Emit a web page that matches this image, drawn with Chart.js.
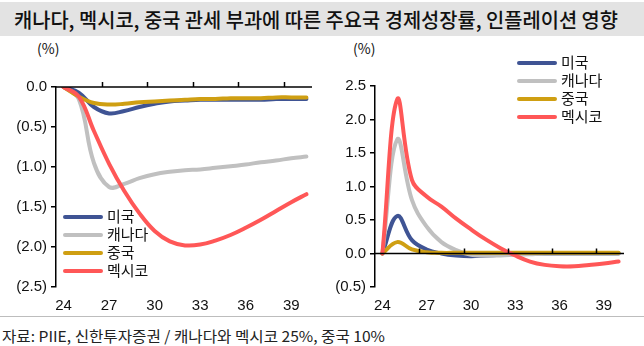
<!DOCTYPE html>
<html><head><meta charset="utf-8">
<script src="https://cdn.jsdelivr.net/npm/chart.js@4.4.0/dist/chart.umd.min.js"></script>
<style>
html,body{margin:0;padding:0;background:#fff;}
body{width:644px;height:346px;position:relative;overflow:hidden;font-family:"Noto Sans CJK KR","Noto Sans",sans-serif;}
#title{position:absolute;left:0;top:2px;width:644px;height:34px;background:#e3e3e3;}
#title span{position:absolute;left:14px;top:3px;font-size:20px;font-weight:500;color:#111;white-space:nowrap;transform-origin:0 50%;display:inline-block;}
.unit{position:absolute;top:38px;font-size:14px;color:#111;}
.cw{position:absolute;}
#sep{position:absolute;left:0;top:316px;width:644px;height:1px;background:#bdbdbd;}
#src{position:absolute;left:2px;top:325px;font-size:15px;color:#222;white-space:nowrap;transform-origin:0 50%;display:inline-block;}
.lg{position:absolute;font-size:15px;color:#111;}
.lg div{position:relative;height:18px;}
.lg i{position:absolute;left:0;top:7px;width:40px;height:4px;border-radius:2px;}
.lg b{position:absolute;left:44px;top:-3px;font-weight:400;white-space:nowrap;}
</style></head>
<body>
<div id="title"><span id="tt">캐나다, 멕시코, 중국 관세 부과에 따른 주요국 경제성장률, 인플레이션 영향</span></div>
<div class="unit" style="left:37px">(%)</div>
<div class="unit" style="left:353px">(%)</div>
<div class="cw" style="left:0;top:40px;width:320px;height:275px"><canvas id="c1"></canvas></div>
<div class="cw" style="left:320px;top:40px;width:324px;height:275px"><canvas id="c2"></canvas></div>
<div class="lg" id="lg1" style="left:63px;top:208px"></div>
<div class="lg" id="lg2" style="left:517px;top:54px"></div>
<div id="sep"></div>
<div id="src">자료: PIIE, 신한투자증권 / 캐나다와 멕시코 25%, 중국 10%</div>
<script>
const years = ['24','25','26','27','28','29','30','31','32','33','34','35','36','37','38','39','40'];
const seriesNames = ['미국','캐나다','중국','멕시코'];
const seriesColors = ['#3f5494','#c0c0c0','#cf9f12','#ff5757'];
// GDP impact (%)
const gdpUS     = [0,-0.07,-0.25,-0.33,-0.30,-0.25,-0.21,-0.18,-0.17,-0.16,-0.16,-0.16,-0.16,-0.16,-0.15,-0.15,-0.15];
const gdpCanada = [0,-0.15,-0.95,-1.25,-1.21,-1.14,-1.09,-1.06,-1.04,-1.03,-1.01,-0.99,-0.97,-0.94,-0.92,-0.89,-0.87];
const gdpChina  = [0,-0.12,-0.20,-0.22,-0.21,-0.19,-0.18,-0.17,-0.16,-0.15,-0.15,-0.14,-0.14,-0.14,-0.13,-0.13,-0.13];
const gdpMexico = [0,-0.12,-0.55,-0.96,-1.30,-1.58,-1.80,-1.93,-1.98,-1.97,-1.92,-1.85,-1.76,-1.66,-1.55,-1.44,-1.34];
// Inflation impact (%p)
const infUS     = [0,0.56,0.20,0.06,0.00,-0.03,-0.04,-0.03,-0.02,-0.01,0,0,0,0,0,0,0];
const infCanada = [0,1.70,0.80,0.40,0.17,0.05,-0.02,-0.03,-0.03,-0.02,-0.01,0,0,0,0,0,0];
const infChina  = [0,0.17,0.06,0.02,0.01,0.01,0.01,0.01,0.01,0.01,0.01,0.01,0.01,0.01,0.01,0.01,0.01];
const infMexico = [0,2.30,1.10,0.85,0.70,0.52,0.36,0.21,0.08,-0.03,-0.12,-0.17,-0.19,-0.19,-0.17,-0.15,-0.12];
const shownYears = ['24','27','30','33','36','39'];

function fmt(v){ if (Math.abs(v) < 1e-9) return '0.0'; return v < 0 ? '(' + Math.abs(v).toFixed(1) + ')' : v.toFixed(1); }

const zeroAxis = {
  id:'zeroAxis',
  afterDatasetsDraw(chart){
    const {ctx, chartArea, scales} = chart;
    const y0 = scales.y.getPixelForValue(0);
    ctx.save();
    ctx.strokeStyle = '#000'; ctx.lineWidth = 1.5;
    ctx.beginPath(); ctx.moveTo(chartArea.left, y0); ctx.lineTo(chartArea.right - 2, y0); ctx.stroke();
    const xs = scales.x;
    const half = (xs.getPixelForValue(1) - xs.getPixelForValue(0)) / 2;
    years.forEach((yr, i) => {
      if (i > 0 && shownYears.includes(yr)) {
        const px = Math.round(xs.getPixelForValue(i) - half) + 0.5;
        ctx.beginPath(); ctx.moveTo(px, y0); ctx.lineTo(px, y0 - 5); ctx.stroke();
      }
    });
    ctx.restore();
  }
};

function makeChart(id, data, ymin, ymax, yWidth, pad){
  return new Chart(document.getElementById(id), {
    type:'line',
    data:{
      labels: years,
      datasets: data.map((d, i) => ({
        label: seriesNames[i], data: d, borderColor: seriesColors[i], backgroundColor: seriesColors[i],
        borderWidth: 4, pointRadius: 0, tension: 0.4, borderCapStyle:'round', borderJoinStyle:'round',
        order: 3 - i
      }))
    },
    options:{
      responsive:true, maintainAspectRatio:false, animation:false,
      layout:{padding:pad},
      plugins:{legend:{display:false}, tooltip:{enabled:false}},
      scales:{
        x:{
          offset:true,
          grid:{display:false, drawTicks:false},
          border:{display:false},
          ticks:{autoSkip:false, maxRotation:0, padding:10, color:'#111',
            font:{family:'"Liberation Sans", Arial, sans-serif', size:15},
            callback:(v, i) => shownYears.includes(years[i]) ? years[i] : ''},
          afterFit:(s)=>{ s.height = 28; }
        },
        y:{
          min:ymin, max:ymax,
          grid:{drawOnChartArea:false, drawTicks:true, tickLength:5, color:'#000', lineWidth:1.5},
          border:{display:true, color:'#000', width:1.5},
          ticks:{stepSize:0.5, padding:4, color:'#111', callback:(v)=>fmt(v),
            font:{family:'"Liberation Sans", Arial, sans-serif', size:15}},
          afterFit:(s)=>{ s.width = yWidth; }
        }
      }
    },
    plugins:[zeroAxis]
  });
}

makeChart('c1', [gdpUS, gdpCanada, gdpChina, gdpMexico], -2.5, 0, 56, {top:47, right:6, left:0, bottom:0});
makeChart('c2', [infUS, infCanada, infChina, infMexico], -0.5, 2.5, 55, {top:46, right:18, left:0, bottom:0});

function legend(id){
  const el = document.getElementById(id);
  seriesNames.forEach((n, i) => {
    const row = document.createElement('div');
    row.innerHTML = '<i style="background:' + seriesColors[i] + '"></i><b>' + n + '</b>';
    el.appendChild(row);
  });
}
legend('lg1'); legend('lg2');

function fitWidth(id, w){
  const el = document.getElementById(id);
  const cur = el.getBoundingClientRect().width;
  if (cur > 0) el.style.transform = 'scaleX(' + (w / cur) + ')';
}
fitWidth('tt', 604);
fitWidth('src', 383);
</script>
</body></html>
